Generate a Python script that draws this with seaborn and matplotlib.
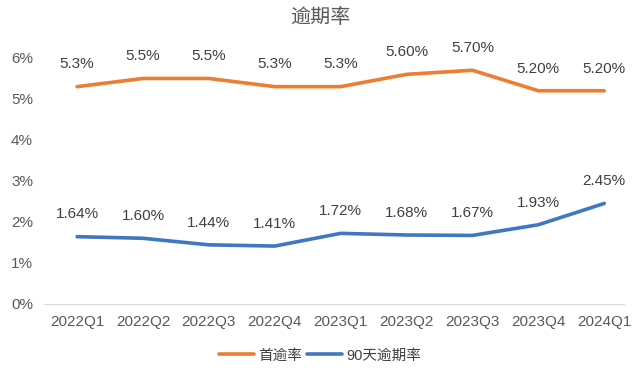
import pandas as pd
import matplotlib.pyplot as plt
import seaborn as sns
from matplotlib.lines import Line2D

sns.set_style('white')
plt.rcParams['font.family'] = ['Liberation Sans', 'Noto Sans CJK SC', 'DejaVu Sans']

quarters = ['2022Q1', '2022Q2', '2022Q3', '2022Q4', '2023Q1',
            '2023Q2', '2023Q3', '2023Q4', '2024Q1']
first_overdue = [5.3, 5.5, 5.5, 5.3, 5.3, 5.6, 5.7, 5.2, 5.2]
first_labels = ['5.3%', '5.5%', '5.5%', '5.3%', '5.3%', '5.60%', '5.70%', '5.20%', '5.20%']
overdue_90 = [1.64, 1.60, 1.44, 1.41, 1.72, 1.68, 1.67, 1.93, 2.45]
labels_90 = ['1.64%', '1.60%', '1.44%', '1.41%', '1.72%', '1.68%', '1.67%', '1.93%', '2.45%']
series_names = ['首逾率', '90天逾期率']
colors = ['#ED7D31', '#3F77C0']

df = pd.DataFrame({
    'quarter': quarters * 2,
    'value': first_overdue + overdue_90,
    'series': [series_names[0]] * len(quarters) + [series_names[1]] * len(quarters),
})

fig = plt.figure(figsize=(6.4, 3.71), dpi=100)
ax = fig.add_axes([0.069, 0.181, 0.906, 0.718])

sns.lineplot(data=df, x='quarter', y='value', hue='series', sort=False,
             palette=colors, linewidth=2.6, ax=ax, legend=False)

# value labels above each point
for vals, labs in [(first_overdue, first_labels), (overdue_90, labels_90)]:
    for i, (v, l) in enumerate(zip(vals, labs)):
        ax.annotate(l, (i, v), xytext=(0, 16), textcoords='offset points',
                    ha='center', va='center', fontsize=11, color='#404040')

ax.set_xlim(-0.5, 8.3)
ax.set_ylim(0, 6.5)
ax.set_yticks(range(0, 7))
ax.set_yticklabels([f'{i}%' for i in range(0, 7)])
ax.set_xlabel('')
ax.set_ylabel('')
for s in ['top', 'right', 'left']:
    ax.spines[s].set_visible(False)
ax.spines['bottom'].set_color('#d9d9d9')
ax.tick_params(axis='both', length=0, labelsize=11, labelcolor='#595959', pad=8)

fig.text(0.5, 0.952, '逾期率', ha='center', va='center', fontsize=14.5, color='#595959',
         family=['Noto Sans CJK SC'])

handles = [Line2D([], [], color=c, lw=2.6) for c in colors]
fig.legend(handles, series_names, loc='center', bbox_to_anchor=(0.5, 0.042), ncol=2,
           frameon=False, fontsize=10.5, handlelength=2.4, columnspacing=0.3,
           handletextpad=0.3, labelcolor='#404040')

fig.savefig('out.png', dpi=100)
